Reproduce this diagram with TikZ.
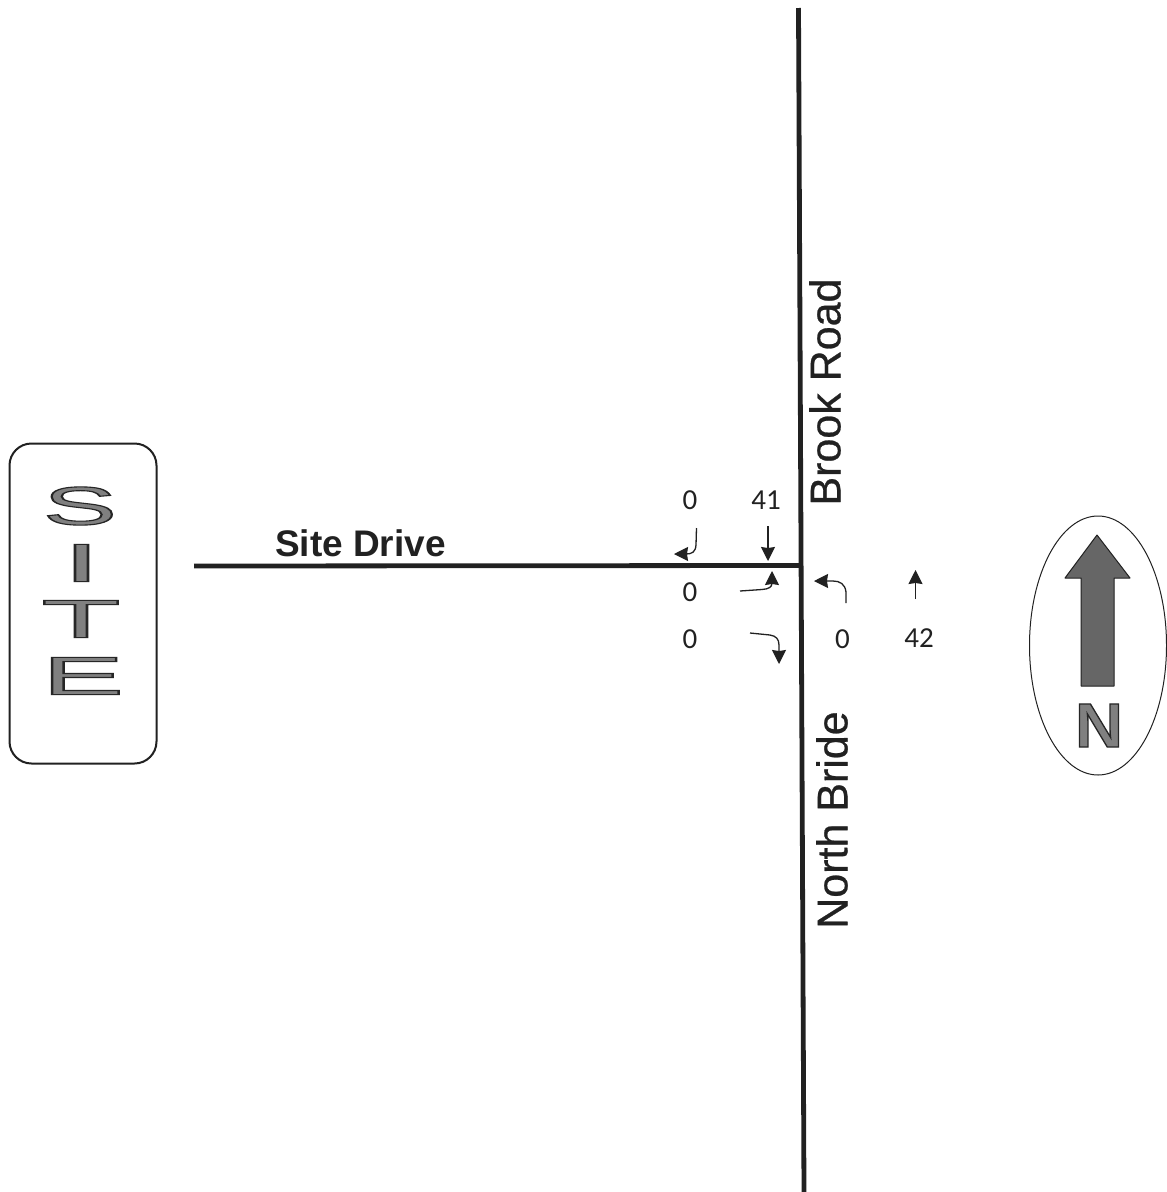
\documentclass[tikz,border=0pt]{standalone}
\usepackage{fontspec}
\setmainfont{Liberation Sans}
\newfontfamily\numfont{Carlito}
\newfontfamily\heavyfont[FakeBold=0.6]{Liberation Sans}
\usetikzlibrary{arrows.meta,shapes.geometric}
\definecolor{ink}{gray}{0.13}
\definecolor{stip}{gray}{0.5}
\newcommand{\outl}[1]{\special{pdf:code 0.15 G 2 Tr 1.1 w}#1\special{pdf:code 0 Tr}}
\tikzset{
  road/.style={line width=4.8pt,draw=ink},
  turn/.style={line width=1.3pt,draw=ink,-{Stealth[length=14pt,width=14pt,inset=1pt]}},
  vol/.style={font=\numfont\fontsize{29}{29}\selectfont,text=ink,inner sep=0pt},
  roadname/.style={font=\heavyfont\fontsize{43}{43}\selectfont,inner sep=0pt,text=ink},
  bigletter/.style={font=\fontsize{54}{54}\selectfont,inner sep=0pt,text=stip},
}
\begin{document}
\begin{tikzpicture}[x=1pt,y=-1pt]
\useasboundingbox (0,0) rectangle (1167,1192);
\fill[white] (0,0) rectangle (1167,1192);
% roads
\coordinate (rn) at (798.5,8);
\coordinate (rs) at (804,1192);
\coordinate (dw) at (194,566);
\coordinate (de) at (801,565.5);
\draw[road] (rn) -- (rs);
\draw[road] (dw) -- (de);
% site box
\node[draw=ink,line width=2pt,rounded corners=22pt,minimum width=147pt,minimum height=320pt,inner sep=0pt] (site) at (83,603.5) {};
\node[bigletter,xscale=2.05,yscale=1.0] (s1) at (80,506) {\outl{S}};
\node[bigletter,xscale=2.6,yscale=1.0] (s2) at (81.5,563) {\outl{I}};
\node[bigletter,xscale=2.4,yscale=1.0] (s3) at (81,619) {\outl{T}};
\node[bigletter,xscale=2.27,yscale=1.0] (s4) at (83,676) {\outl{E}};
% labels
\node[font=\bfseries\fontsize{37}{37}\selectfont,text=ink,inner sep=0pt] (sd) at (360.5,543.5) {Site Drive};
\node[roadname,rotate=90] (br) at (825,392) {Brook Road};
\node[roadname,rotate=90] (nb) at (832,820) {North Bride};
% volumes
\node[vol] (v1) at (690,500) {0};
\node[vol] (v2) at (766,500) {41};
\node[vol] (v3) at (690,592) {0};
\node[vol] (v4) at (690,639) {0};
\node[vol] (v5) at (842.5,639) {0};
\node[vol] (v6) at (919,638) {42};
% turning arrows
\coordinate (a1) at (696.5,528); \coordinate (a2) at (674,554);
\draw[turn] (a1) -- (696,545) .. controls (695.5,552) and (692,554) .. (686,554) -- (a2);
\coordinate (b1) at (768,526); \coordinate (b2) at (768,561);
\draw[turn] (b1) -- (b2);
\coordinate (c1) at (740,591); \coordinate (c2) at (772,571);
\draw[turn] (c1) -- (762,589.5) .. controls (769,589) and (772,587) .. (772,583) -- (c2);
\coordinate (d1) at (750,633); \coordinate (d2) at (779,664);
\draw[turn] (d1) -- (770,635) .. controls (776,636) and (779,639) .. (779,645) -- (d2);
\coordinate (e1) at (846,603); \coordinate (e2) at (814,581);
\draw[turn] (e1) -- (846,592) .. controls (845,584) and (840,581) .. (833,581) -- (e2);
\coordinate (f1) at (915.5,599); \coordinate (f2) at (915.5,570);
\draw[turn] (f1) -- (f2);
% north symbol
\node[draw=ink,line width=1pt,ellipse,minimum width=137pt,minimum height=259pt,inner sep=0pt] (el) at (1098,645.5) {};
\draw[line width=1pt,draw=ink,fill=stip!80!black,line join=round] (1097,535) -- (1130,578) -- (1114,578) -- (1114,686) -- (1081,686) -- (1081,578) -- (1065,578) -- cycle;
\node[bigletter,font=\bfseries\fontsize{54}{54}\selectfont,xscale=1.23,yscale=1.16] (nn) at (1099,725.5) {\outl{N}};
\end{tikzpicture}
\end{document}
